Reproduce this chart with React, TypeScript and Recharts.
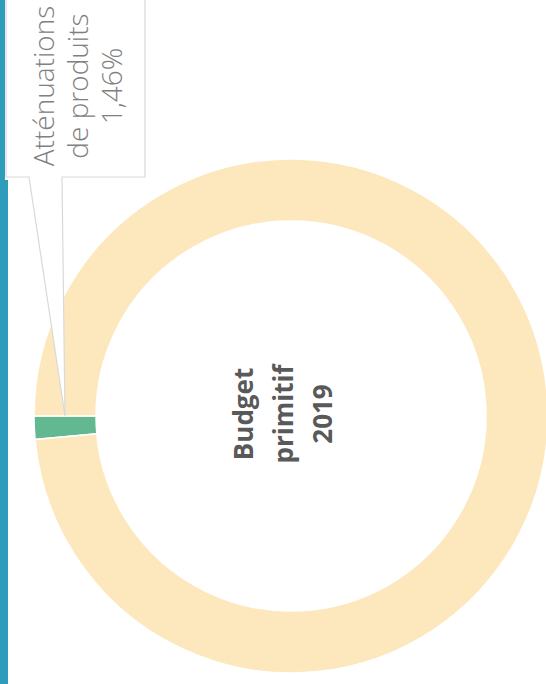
import { PieChart, Pie, Cell } from 'recharts';

const SLICE_NAMES = ['Atténuations de produits', 'Autres dépenses'];
const SLICE_VALUES = [1.46, 98.54];
const SLICE_COLORS = ['#62b890', '#fde8be'];
const CALLOUT_LINES = ['Atténuations', 'de produits', '1,46%'];
const CENTER_LINES = ['Budget', 'primitif', '2019'];

const data = SLICE_NAMES.map((name, i) => ({
  name,
  value: SLICE_VALUES[i],
  fill: SLICE_COLORS[i],
}));

const LABEL_GREY = '#808080';
const CENTER_GREY = '#595959';

interface LabelProps {
  cx: number;
  cy: number;
  innerRadius: number;
  outerRadius: number;
  index: number;
}

// the callout (rotated with the page) and the centre caption, drawn once
function renderCallout({ cx, cy, innerRadius, outerRadius, index }: LabelProps) {
  if (index !== 0) return null;
  const tipX = cx - (innerRadius + outerRadius) / 2;
  const tipY = cy;
  const boxBottom = 177;
  const boxRight = 145;
  const shape = [
    [6, -2],
    [boxRight, -2],
    [boxRight, boxBottom],
    [62, boxBottom],
    [tipX, tipY],
    [29, boxBottom],
    [6, boxBottom],
  ]
    .map((p) => p.join(','))
    .join(' ');

  return (
    <g>
      <polygon points={shape} fill="#ffffff" stroke="#d9d9d9" strokeWidth={1.2} />
      <g transform="translate(0, 86) rotate(-90)">
        <text
          textAnchor="middle"
          fill={LABEL_GREY}
          fontFamily="'Open Sans', sans-serif"
          fontWeight={300}
          fontSize={28}
        >
          {CALLOUT_LINES.map((line, i) => (
            <tspan key={line} x={0} y={54 + i * 34}>
              {line}
            </tspan>
          ))}
        </text>
      </g>
      <g transform={`translate(0, ${cy - 2}) rotate(-90)`}>
        <text
          textAnchor="middle"
          fill={CENTER_GREY}
          fontFamily="'Open Sans', sans-serif"
          fontWeight={700}
          fontSize={26}
        >
          {CENTER_LINES.map((line, i) => (
            <tspan key={line} x={0} y={253 + i * 39.5}>
              {line}
            </tspan>
          ))}
        </text>
      </g>
    </g>
  );
}

export default function App() {
  return (
    <div
      style={{
        position: 'fixed',
        left: 0,
        top: 0,
        width: 546,
        height: 684,
        background: '#ffffff',
        overflow: 'hidden',
      }}
    >
      <div style={{ position: 'absolute', left: 0, top: 0, width: 5, height: 180, background: '#2d9dbb' }} />
      <div style={{ position: 'absolute', left: 0, top: 180, width: 8, height: 504, background: '#2d9dbb' }} />
      <div style={{ position: 'absolute', left: 0, top: 0 }}>
        <PieChart width={546} height={684}>
          <Pie
            data={data}
            dataKey="value"
            nameKey="name"
            cx={286}
            cy={411}
            innerRadius={195}
            outerRadius={257}
            startAngle={180}
            endAngle={540}
            stroke="#ffffff"
            strokeWidth={1.5}
            label={renderCallout as any}
            labelLine={false}
            isAnimationActive={false}
          >
            {data.map((d) => (
              <Cell key={d.name} fill={d.fill} />
            ))}
          </Pie>
        </PieChart>
      </div>
    </div>
  );
}
